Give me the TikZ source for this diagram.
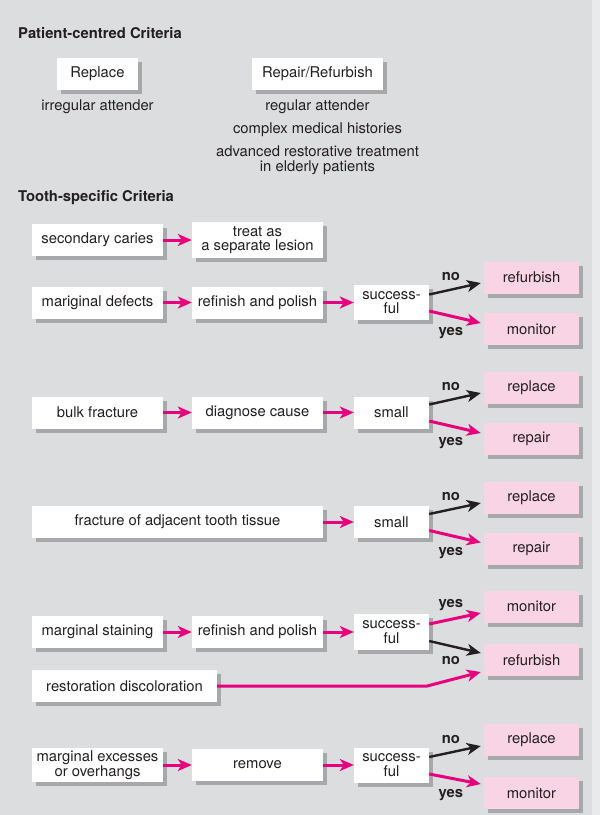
\documentclass[tikz,border=0pt]{standalone}
\usepackage{fontspec}
\setmainfont{TeX Gyre Heros}
\usepackage{xcolor}
\usepackage{tikz}
\usetikzlibrary{arrows.meta,shadows}

\definecolor{bg}{RGB}{220,221,223}
\definecolor{bgedge}{RGB}{233,234,235}
\definecolor{shade}{RGB}{166,168,171}
\definecolor{pinkbox}{RGB}{249,212,228}
\definecolor{hotpink}{RGB}{230,0,126}
\definecolor{ink}{RGB}{35,31,32}

\begin{document}
\begin{tikzpicture}[x=1pt, y=-1pt,
		every node/.style={font=\fontsize{14.8}{14.5}\selectfont, text=ink},
		box/.style={fill=white, minimum width=#1, minimum height=32pt, inner sep=0pt, align=center,
			drop shadow={shadow xshift=4pt, shadow yshift=-4pt, fill=shade, opacity=1}},
		box/.default=131pt,
		result/.style={box=95pt, fill=pinkbox},
		lbl/.style={font=\fontsize{14.8}{14.5}\selectfont\bfseries, inner sep=0pt},
		>={Stealth[length=14pt, width=12pt, inset=4pt]},
		pink/.style={draw=hotpink, line width=3pt, ->},
		dark/.style={draw=ink, line width=2.4pt, ->}]
				\useasboundingbox (0, 0) rectangle (600, 815);
				\fill[bg] (0, 0) rectangle (600, 815);
				\fill[bgedge] (592, 0) rectangle (600, 815);
				% patient-centred criteria
				\node[lbl, anchor=base west] (0) at (18, 38) {Patient-centred Criteria};
				\node[box=81pt] (1) at (97.5, 74) {Replace};
				\node[box] (2) at (317.5, 74) {Repair/Refurbish};
				\node (3) at (97.5, 107) {irregular attender};
				\node (4) at (317.5, 107) {regular attender};
				\node (5) at (317.5, 130) {complex medical histories};
				\node[align=center] (6) at (317.5, 160) {advanced restorative treatment\\in elderly patients};
				% tooth-specific criteria
				\node[lbl, anchor=base west] (7) at (18, 201) {Tooth-specific Criteria};
				\node[box] (8) at (97.5, 240) {secondary caries};
				\node[box, minimum height=36pt] (9) at (257.5, 240) {treat as\\a separate lesion};
				\node[box] (10) at (97.5, 302.5) {mariginal defects};
				\node[box] (11) at (257.5, 302.5) {refinish and polish};
				\node[box=75pt, minimum height=35pt] (12) at (391.5, 302.5) {success-\\ful};
				\node[result] (13) at (531.5, 277.5) {refurbish};
				\node[result] (14) at (531.5, 329) {monitor};
				\node[box] (15) at (97.5, 412.5) {bulk fracture};
				\node[box] (16) at (257.5, 412.5) {diagnose cause};
				\node[box=75pt] (17) at (391.5, 412.5) {small};
				\node[result] (18) at (531.5, 387.5) {replace};
				\node[result] (19) at (531.5, 439) {repair};
				\node[box=291pt] (20) at (177.5, 522) {fracture of adjacent tooth tissue};
				\node[box=75pt] (21) at (391.5, 522) {small};
				\node[result] (22) at (531.5, 497.5) {replace};
				\node[result] (23) at (531.5, 548.5) {repair};
				\node[box] (24) at (97.5, 632) {marginal staining};
				\node[box] (25) at (257.5, 632) {refinish and polish};
				\node[box=75pt, minimum height=36pt] (26) at (391.5, 632) {success-\\ful};
				\node[result] (27) at (531.5, 606.5) {monitor};
				\node[result] (28) at (531.5, 660) {refurbish};
				\node[box=185pt] (29) at (124.5, 686) {restoration discoloration};
				\node[box, minimum height=34pt] (30) at (97.5, 765) {marginal excesses\\or overhangs};
				\node[box] (31) at (257.5, 765) {remove};
				\node[box=75pt, minimum height=35pt] (32) at (391.5, 765) {success-\\ful};
				\node[result] (33) at (531.5, 740) {replace};
				\node[result] (34) at (531.5, 793) {monitor};
				% connectors
				\draw[pink] (8) to (9);
				\draw[pink] (10) to (11);
				\draw[pink] (11) to (12);
				\draw[dark] ([yshift=8pt]12.east) -- node[lbl, pos=.42, above=8pt] (35) {no} ([xshift=-3pt, yshift=-5.5pt]13.west);
				\draw[pink] ([yshift=-8.5pt]12.east) -- node[lbl, pos=.42, below=10pt] (36) {yes} ([xshift=-3pt, yshift=6pt]14.west);
				\draw[pink] (15) to (16);
				\draw[pink] (16) to (17);
				\draw[dark] ([yshift=8pt]17.east) -- node[lbl, pos=.42, above=8pt] (37) {no} ([xshift=-3pt, yshift=-5.5pt]18.west);
				\draw[pink] ([yshift=-8.5pt]17.east) -- node[lbl, pos=.42, below=10pt] (38) {yes} ([xshift=-3pt, yshift=6pt]19.west);
				\draw[pink] (20) to (21);
				\draw[dark] ([yshift=8pt]21.east) -- node[lbl, pos=.42, above=8pt] (39) {no} ([xshift=-3pt, yshift=-5.5pt]22.west);
				\draw[pink] ([yshift=-8.5pt]21.east) -- node[lbl, pos=.42, below=10pt] (40) {yes} ([xshift=-3pt, yshift=6pt]23.west);
				\draw[pink] (24) to (25);
				\draw[pink] (25) to (26);
				\draw[pink] ([yshift=8pt]26.east) -- node[lbl, pos=.42, above=7pt] (41) {yes} ([xshift=-3pt, yshift=-6.5pt]27.west);
				\draw[dark] ([yshift=-9pt]26.east) -- node[lbl, pos=.42, below=9pt] (42) {no} ([xshift=-3pt, yshift=7pt]28.west);
				\draw[pink] (29.east) -- ++(210, 0) -- ([xshift=-3pt, yshift=-12pt]28.west);
				\draw[pink] (30) to (31);
				\draw[pink] (31) to (32);
				\draw[dark] ([yshift=8pt]32.east) -- node[lbl, pos=.42, above=8pt] (43) {no} ([xshift=-3pt, yshift=-6pt]33.west);
				\draw[pink] ([yshift=-9pt]32.east) -- node[lbl, pos=.42, below=10pt] (44) {yes} ([xshift=-3pt, yshift=9pt]34.west);
		\end{tikzpicture}
\end{document}
